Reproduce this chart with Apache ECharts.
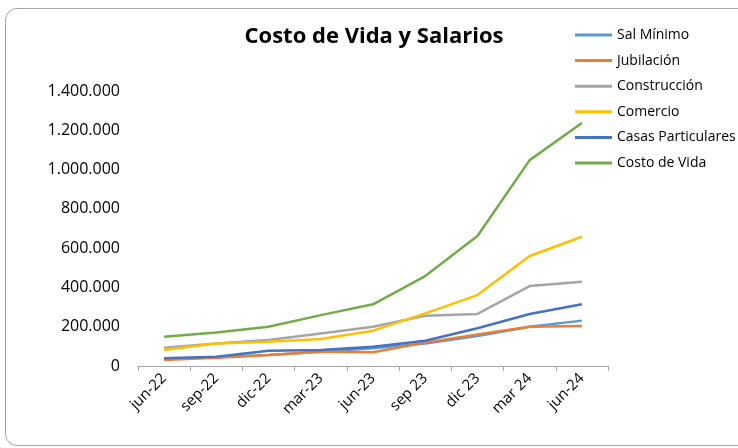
<!DOCTYPE html>
<html>
<head>
<meta charset="utf-8">
<script src="https://cdn.jsdelivr.net/npm/echarts@6/dist/echarts.min.js"></script>
<style>
  html, body { margin: 0; padding: 0; background: #fff; overflow: hidden; }
  #chart { width: 738px; height: 448px; }
  .frame {
    position: absolute; left: 5px; top: 8px; width: 760px; height: 438px;
    border: 1px solid #a6a6a6; border-radius: 12px; box-sizing: border-box;
  }
</style>
</head>
<body>
<div class="frame"></div>
<div id="chart" style="position:absolute;left:0;top:0;"></div>
<script>
  const categories = ['jun-22', 'sep-22', 'dic-22', 'mar-23', 'jun-23', 'sep 23', 'dic 23', 'mar 24', 'jun-24']
  const salMinimo = [36000, 44000, 56000, 73000, 90000, 115000, 153000, 200000, 231000]
  const jubilacion = [31000, 42000, 56000, 73000, 70000, 119000, 161000, 200000, 204000]
  const construccion = [93000, 115000, 132000, 166000, 200000, 256000, 265000, 407000, 429000]
  const comercio = [81000, 115000, 124000, 137000, 180000, 268000, 361000, 560000, 658000]
  const casasParticulares = [39000, 47000, 78000, 81000, 98000, 129000, 192000, 265000, 314000]
  const costoDeVida = [149000, 171000, 200000, 259000, 314000, 458000, 662000, 1048000, 1237000]

  const font = '"Open Sans", Lato, sans-serif'
  const fmt = v => String(v).replace(/\B(?=(\d{3})+(?!\d))/g, '.')

  function line(name, data, color) {
    return {
      name: name,
      type: 'line',
      data: data,
      symbol: 'none',
      lineStyle: { color: color, width: 2.5 },
      itemStyle: { color: color }
    }
  }

  var myChart = echarts.init(document.getElementById('chart'))
  myChart.setOption({
    animation: false,
    title: {
      text: 'Costo de Vida y Salarios',
      left: 369,
      textAlign: 'center',
      top: 21,
      textStyle: { fontFamily: font, fontSize: 22, fontWeight: 'bold', color: '#000' }
    },
    legend: {
      orient: 'vertical',
      left: 570,
      top: 23,
      itemGap: 11.6,
      itemWidth: 37,
      itemHeight: 3,
      icon: 'rect',
      textStyle: { fontFamily: font, fontSize: 14, color: '#000' },
      data: ['Sal Mínimo', 'Jubilación', 'Construcción', 'Comercio', 'Casas Particulares', 'Costo de Vida']
    },
    grid: { left: 138, right: 130, top: 91, bottom: 82 },
    xAxis: {
      type: 'category',
      data: categories,
      boundaryGap: true,
      axisLine: { lineStyle: { color: '#a6a6a6', width: 1 } },
      axisTick: { show: true, length: 5, lineStyle: { color: '#a6a6a6' } },
      axisLabel: { rotate: 45, color: '#000', fontFamily: font, fontSize: 15, margin: 10 }
    },
    yAxis: {
      type: 'value',
      min: 0,
      max: 1400000,
      interval: 200000,
      axisLine: { show: false },
      axisTick: { show: false },
      splitLine: { show: false },
      axisLabel: { color: '#000', fontFamily: font, fontSize: 16, margin: 18, formatter: fmt }
    },
    series: [
      line('Sal Mínimo', salMinimo, '#5B9BD5'),
      line('Jubilación', jubilacion, '#ED7D31'),
      line('Construcción', construccion, '#A5A5A5'),
      line('Comercio', comercio, '#FFC000'),
      line('Casas Particulares', casasParticulares, '#4472C4'),
      line('Costo de Vida', costoDeVida, '#70AD47')
    ]
  })
</script>
</body>
</html>
